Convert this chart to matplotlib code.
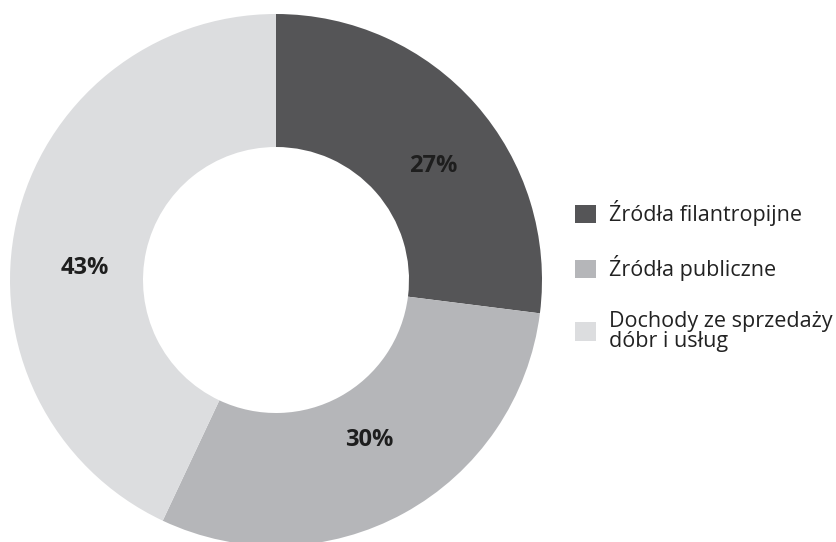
import matplotlib
matplotlib.use("Agg")
from matplotlib import pyplot as plt
from matplotlib.patches import Patch

labels = ["Źródła filantropijne", "Źródła publiczne", "Dochody ze sprzedaży\ndóbr i usług"]
shares = [27, 30, 43]
colors = ["#555557", "#b5b6b9", "#dcdddf"]
# where each percentage sits inside the ring (data units, radius 1)
label_xy = [(0.59, 0.43), (0.35, -0.60), (-0.72, 0.045)]

plt.rcParams['font.family'] = ['Open Sans', 'DejaVu Sans']

W, H = 837, 542
fig = plt.figure(figsize=(W / 100, H / 100), dpi=100)

# donut: centre (276, 280) px from top-left, outer radius ~266 px
cx, cy, r = 276, H - 280, 266
ax = fig.add_axes([(cx - r) / W, (cy - r) / H, 2 * r / W, 2 * r / H])
wedges, texts = ax.pie(shares, colors=colors, startangle=90, counterclock=False,
                       radius=1, wedgeprops=dict(width=0.5, linewidth=0))
for v, (x, y) in zip(shares, label_xy):
    ax.text(x, y, "%d%%" % v, ha='center', va='center', fontsize=17,
            fontweight='bold', color='#1e1e1e')
ax.set_xlim(-1, 1)
ax.set_ylim(-1, 1)
ax.set_aspect('equal')
ax.axis('off')

handles = [Patch(facecolor=c, edgecolor='none') for c in colors]
leg = fig.legend(handles, labels, loc='upper left', bbox_to_anchor=(556 / W, 1 - 181 / H),
                 frameon=False, fontsize=15.5, handlelength=0.95, handleheight=0.95,
                 handletextpad=0.6, labelspacing=1.35, labelcolor='#222222')
for t in leg.get_texts():
    t.set_linespacing(0.95)

fig.savefig("out.png", dpi=100)
plt.close()
